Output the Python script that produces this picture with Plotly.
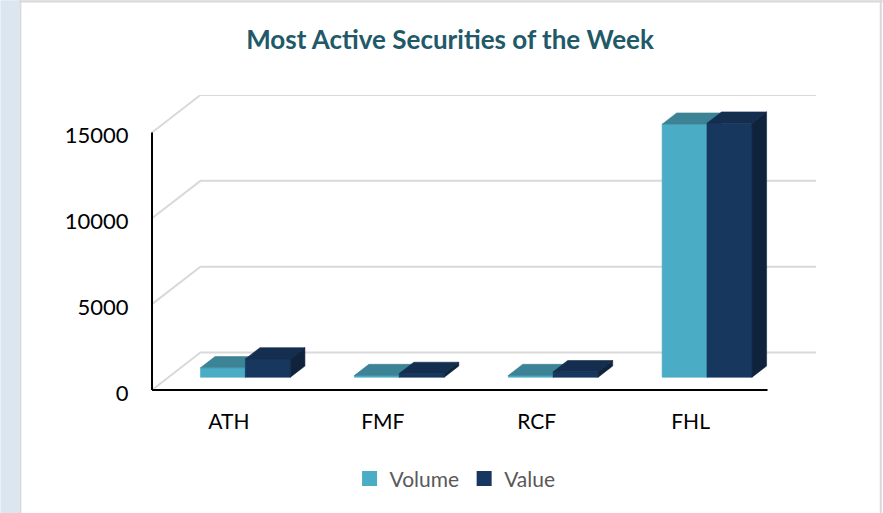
import plotly.graph_objects as go

# ---------------- data ----------------
categories = ["ATH", "FMF", "RCF", "FHL"]
volume = [550, 100, 100, 14740]
value = [1070, 220, 320, 14800]
y_ticks = [0, 5000, 10000, 15000]
series_names = ["Volume", "Value"]

# ---------------- styles ----------------
FRONT = {"Volume": "#4BACC6", "Value": "#17375E"}
TOP = {"Volume": "#3C8396", "Value": "#142E50"}
SIDE = {"Volume": "#347385", "Value": "#10233D"}
GRID = "#D9D9D9"
FONT = "Lato"

W, H = 883, 513
PX_CAT = 154.0             # pixels per category
PX_UNIT = 257.7 / 15000.0  # pixels per value unit
X0_PX = 151.7              # front y-axis x pixel
Y0_PX = 390.0              # front x-axis y pixel
DX_PX, DY_PX = 48.5, 37.5  # oblique depth offset (front -> back wall)
PAD_PX = 3.0               # room so the front axis lines are not clipped

DX = DX_PX / PX_CAT
DY = DY_PX / PX_UNIT
D0, D1 = 0.34, 0.64        # bar depth span
BW = 45.0 / PX_CAT         # bar width

ymax = max(y_ticks)
x_lo = -0.5
x_front_hi = len(categories) - 0.5
x_hi = x_front_hi + DX
y_hi = ymax + DY
x_rng_lo = x_lo - PAD_PX / PX_CAT
y_rng_lo = -PAD_PX / PX_UNIT

plot_w = (x_hi - x_rng_lo) * PX_CAT
plot_h = (y_hi - y_rng_lo) * PX_UNIT
m_l = X0_PX - PAD_PX
m_r = W - m_l - plot_w
m_b = H - Y0_PX - PAD_PX
m_t = H - m_b - plot_h


def P(x, y, d):
    return x + d * DX, y + d * DY


def poly(points):
    xs = [p[0] for p in points] + [points[0][0], None]
    ys = [p[1] for p in points] + [points[0][1], None]
    return xs, ys


fig = go.Figure()

# back-wall gridlines with diagonal connectors
gx, gy = [], []
for v in y_ticks:
    a = P(x_lo, v, 0)
    b = P(x_lo, v, 1)
    c = P(x_front_hi, v, 1)
    gx += [a[0], b[0], c[0], None]
    gy += [a[1], b[1], c[1], None]
fig.add_trace(go.Scatter(x=gx, y=gy, mode="lines", line=dict(color=GRID, width=2),
                         hoverinfo="skip", showlegend=False))

# 3D bars
for s, (name, vals) in enumerate(zip(series_names, [volume, value])):
    fx, fy, tx, ty, sx, sy = [], [], [], [], [], []
    for i, v in enumerate(vals):
        xl = i + (s - 1) * BW
        xr = xl + BW
        a, b = poly([P(xl, 0, D0), P(xr, 0, D0), P(xr, v, D0), P(xl, v, D0)])
        fx += a; fy += b
        a, b = poly([P(xl, v, D0), P(xr, v, D0), P(xr, v, D1), P(xl, v, D1)])
        tx += a; ty += b
        a, b = poly([P(xr, 0, D0), P(xr, 0, D1), P(xr, v, D1), P(xr, v, D0)])
        sx += a; sy += b
    for xs, ys, col in [(fx, fy, FRONT[name]), (tx, ty, TOP[name]), (sx, sy, SIDE[name])]:
        fig.add_trace(go.Scatter(x=xs, y=ys, mode="lines", fill="toself", fillcolor=col,
                                 line=dict(color=col, width=0.6), hoverinfo="skip",
                                 showlegend=False))

# legend entries
for name in series_names:
    fig.add_trace(go.Scatter(x=[None], y=[None], mode="markers", name=name,
                             marker=dict(symbol="square", size=15, color=FRONT[name])))


def px_x(px):
    return (px - m_l) / plot_w


def px_y(py):
    return (H - m_b - py) / plot_h


shapes = [
    # front axes
    dict(type="line", xref="x", yref="y", x0=x_lo, x1=x_lo, y0=0, y1=ymax,
         line=dict(color="black", width=2)),
    dict(type="line", xref="x", yref="y", x0=x_lo, x1=x_front_hi, y0=0, y1=0,
         line=dict(color="black", width=2)),
    # page frame
    dict(type="rect", xref="paper", yref="paper", x0=px_x(0), x1=px_x(19),
         y0=px_y(H), y1=px_y(0), fillcolor="#DCE6F1", line=dict(width=0), layer="below"),
    dict(type="rect", xref="paper", yref="paper", x0=px_x(19), x1=px_x(21),
         y0=px_y(H), y1=px_y(0), fillcolor="#D9D9D9", line=dict(width=0), layer="below"),
    dict(type="rect", xref="paper", yref="paper", x0=px_x(19), x1=px_x(W),
         y0=px_y(2.2), y1=px_y(0), fillcolor="#D9D9D9", line=dict(width=0), layer="below"),
    dict(type="rect", xref="paper", yref="paper", x0=px_x(880), x1=px_x(882),
         y0=px_y(H), y1=px_y(0), fillcolor="#D9D9D9", line=dict(width=0), layer="below"),
]

fig.update_layout(
    width=W, height=H,
    margin=dict(l=m_l, r=m_r, t=m_t, b=m_b, pad=0),
    paper_bgcolor="white", plot_bgcolor="rgba(0,0,0,0)",
    title=dict(text="<b>Most Active Securities of the Week</b>", x=450 / W, xref="container",
               xanchor="center", y=1 - 40 / H, yref="container", yanchor="middle",
               font=dict(family=FONT, size=26, color="#215968")),
    xaxis=dict(range=[x_rng_lo, x_hi], tickvals=list(range(len(categories))), ticktext=categories,
               showgrid=False, zeroline=False, showline=False, ticks="outside", ticklen=10,
               tickcolor="rgba(0,0,0,0)", tickfont=dict(family=FONT, size=21, color="black"),
               fixedrange=True),
    yaxis=dict(range=[y_rng_lo, y_hi], tickvals=y_ticks, ticktext=[str(v) for v in y_ticks],
               showgrid=False, zeroline=False, showline=False, ticks="outside", ticklen=15,
               tickcolor="rgba(0,0,0,0)", tickfont=dict(family=FONT, size=22, color="black"),
               ticklabelshift=3, fixedrange=True),
    legend=dict(orientation="h", x=px_x(455), xanchor="center", y=px_y(479), yanchor="middle",
                font=dict(family=FONT, size=21, color="#595959"), bgcolor="rgba(0,0,0,0)",
                itemsizing="trace", itemwidth=30),
    shapes=shapes,
    showlegend=True,
)

fig.write_html("out.html", post_script="document.body.style.margin='0';",
               config={"displayModeBar": False})
